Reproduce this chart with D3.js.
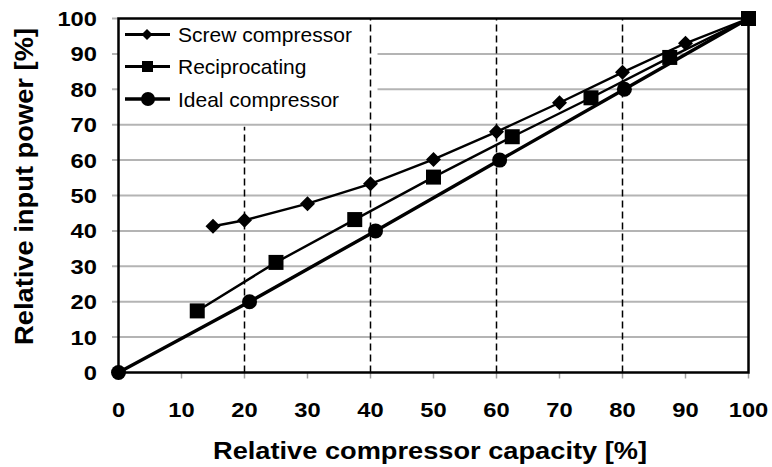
<!DOCTYPE html>
<html><head><meta charset="utf-8">
<script src="https://cdn.jsdelivr.net/npm/d3@7"></script>
<style>body{margin:0;background:#fff}svg{display:block}</style>
</head><body><svg id="c" width="772" height="467"></svg>
<script>
const xTicks = [0,10,20,30,40,50,60,70,80,90,100];
const yTicks = [0,10,20,30,40,50,60,70,80,90,100];
const screwX = [15,20,30,40,50,60,70,80,90,100];
const screwY = [41.3,43,47.7,53.3,60.2,68,76.2,84.8,93,100];
const recipX = [12.5,25,37.5,50,62.5,75,87.5,100];
const recipY = [17.4,31.1,43.2,55.2,66.6,77.6,89,100];
const idealX = [0,20.8,40.8,60.5,80.3,100];
const idealY = [0,20,40,60,80,100];
const seriesNames = ["Screw compressor","Reciprocating","Ideal compressor"];
const dashedX = [20,40,60,80];
const dashedTop = [70,100,100,100];

const svg = d3.select("#c");
const L=118.5,R=748.5,T=18.5,B=372.5;
const x = d3.scaleLinear().domain([0,100]).range([L,R]);
const y = d3.scaleLinear().domain([0,100]).range([B,T]);
const font = "'Liberation Sans', Arial, sans-serif";

// gridlines (with tick stubs left of axis)
svg.append("g").selectAll("line").data(yTicks).join("line")
  .attr("x1",112).attr("x2",d=>(d>0&&d<100)?R:L).attr("y1",d=>y(d)).attr("y2",d=>y(d))
  .attr("stroke","#b4b4b4").attr("stroke-width",2);
// x tick stubs
svg.append("g").selectAll("line").data(xTicks).join("line")
  .attr("x1",d=>x(d)).attr("x2",d=>x(d)).attr("y1",B).attr("y2",B+6)
  .attr("stroke","#a0a0a0").attr("stroke-width",1.5);

// legend background
svg.append("rect").attr("x",L).attr("y",T).attr("width",259).attr("height",101).attr("fill","#fff");

// dashed verticals
svg.append("g").selectAll("line").data(dashedX).join("line")
  .attr("x1",d=>x(d)).attr("x2",d=>x(d)).attr("y1",B).attr("y2",(d,i)=>y(dashedTop[i])-(i==0?-2:0))
  .attr("stroke","#000").attr("stroke-width",1.5).attr("stroke-dasharray","7,4");

// frame
svg.append("rect").attr("x",L).attr("y",T).attr("width",R-L).attr("height",B-T)
  .attr("fill","none").attr("stroke","#000").attr("stroke-width",2.5);

// tick labels
svg.append("g").selectAll("text").data(yTicks).join("text")
  .attr("x",97).attr("y",d=>y(d)+7.5).attr("text-anchor","end")
  .attr("textLength",d=>String(d).length*13.2).attr("lengthAdjust","spacingAndGlyphs")
  .attr("font-family",font).attr("font-weight","bold").attr("font-size",21).text(d=>d);
svg.append("g").selectAll("text").data(xTicks).join("text")
  .attr("x",d=>x(d)).attr("y",417).attr("text-anchor","middle")
  .attr("textLength",d=>String(d).length*13.2).attr("lengthAdjust","spacingAndGlyphs")
  .attr("font-family",font).attr("font-weight","bold").attr("font-size",21).text(d=>d);

// titles
svg.append("text").attr("x",430).attr("y",459).attr("text-anchor","middle")
  .attr("textLength",434).attr("lengthAdjust","spacingAndGlyphs")
  .attr("font-family",font).attr("font-weight","bold").attr("font-size",24)
  .text("Relative compressor capacity [%]");
svg.append("text").attr("transform","translate(33,186.5) rotate(-90)").attr("text-anchor","middle")
  .attr("textLength",317).attr("lengthAdjust","spacingAndGlyphs")
  .attr("font-family",font).attr("font-weight","bold").attr("font-size",25)
  .text("Relative input power [%]");

const line = d3.line().x(d=>x(d[0])).y(d=>y(d[1]));
const zip = (a,b)=>a.map((v,i)=>[v,b[i]]);
const screw = zip(screwX,screwY), recip = zip(recipX,recipY), ideal = zip(idealX,idealY);

svg.append("path").datum(ideal).attr("d",line).attr("fill","none").attr("stroke","#000").attr("stroke-width",3.4);
svg.append("path").datum(recip).attr("d",line).attr("fill","none").attr("stroke","#000").attr("stroke-width",2.4);
svg.append("path").datum(screw).attr("d",line).attr("fill","none").attr("stroke","#000").attr("stroke-width",2.4);

const diamond = (s)=>`M0,${-s}L${s},0L0,${s}L${-s},0Z`;
svg.append("g").selectAll("path").data(screw).join("path")
  .attr("transform",d=>`translate(${x(d[0])},${y(d[1])})`).attr("d",diamond(7.5)).attr("fill","#000");
svg.append("g").selectAll("rect").data(recip).join("rect")
  .attr("x",d=>x(d[0])-7.5).attr("y",d=>y(d[1])-7.5).attr("width",15).attr("height",15).attr("fill","#000");
svg.append("g").selectAll("circle").data(ideal).join("circle")
  .attr("cx",d=>x(d[0])).attr("cy",d=>y(d[1])).attr("r",7.5).attr("fill","#000");

// legend
const lg = svg.append("g");
const rows=[34.5,66.5,99];
seriesNames.forEach((n,i)=>{
  const yy=rows[i];
  lg.append("line").attr("x1",125).attr("x2",170).attr("y1",yy).attr("y2",yy).attr("stroke","#000").attr("stroke-width",i==2?3.4:2.8);
  if(i==0) lg.append("path").attr("transform",`translate(147,${yy})`).attr("d",diamond(5.5)).attr("fill","#000");
  if(i==1) lg.append("rect").attr("x",142).attr("y",yy-5.5).attr("width",11).attr("height",11).attr("fill","#000");
  if(i==2) lg.append("circle").attr("cx",148).attr("cy",yy).attr("r",7).attr("fill","#000");
  lg.append("text").attr("x",178).attr("y",yy+7.5).attr("font-family",font).attr("font-size",21).text(n);
});
</script></body></html>
